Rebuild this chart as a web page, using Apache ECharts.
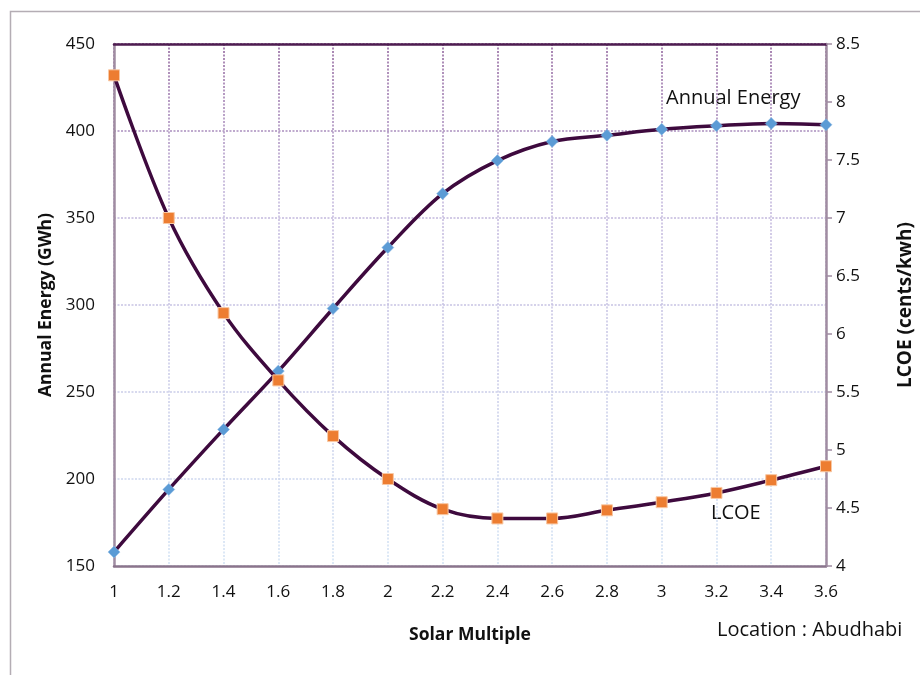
<!DOCTYPE html>
<html>
<head>
<meta charset="utf-8">
<script src="https://cdn.jsdelivr.net/npm/echarts@6/dist/echarts.min.js"></script>
<style>html,body{margin:0;padding:0;background:#fff}#c{width:920px;height:675px}</style>
</head>
<body>
<div id="c"></div>
<script>
var solarMultiple = ['1','1.2','1.4','1.6','1.8','2','2.2','2.4','2.6','2.8','3','3.2','3.4','3.6'];
var annualEnergy = [158, 194, 228.5, 262, 298, 333, 364, 383, 394, 397.5, 401, 403, 404.3, 403.6];
var lcoe = [8.23, 7.0, 6.18, 5.60, 5.12, 4.75, 4.49, 4.41, 4.41, 4.48, 4.55, 4.63, 4.74, 4.86];
var leftTicks = {min: 150, max: 450, interval: 50};
var rightTicks = {min: 4, max: 8.5, interval: 0.5};

var FONT = "'Open Sans', 'Noto Sans', sans-serif";
var gridGrad = {type: 'linear', x: 0, y: 44, x2: 0, y2: 566, global: true,
  colorStops: [{offset: 0, color: '#8c5c98'}, {offset: 0.3, color: '#c2b6dc'}, {offset: 1, color: '#d2e2f4'}]};
var splitStyle = {color: gridGrad, width: 1.5, type: [2, 1.5]};

var chart = echarts.init(document.getElementById('c'));
chart.setOption({
  animation: false,
  backgroundColor: '#fff',
  grid: {left: 114, right: 94, top: 44, bottom: 109, containLabel: false, outerBoundsMode: 'none'},
  xAxis: [{
    type: 'category', data: solarMultiple, boundaryGap: false, position: 'bottom',
    axisLine: {lineStyle: {color: '#8a748c', width: 2.5}},
    axisTick: {show: false},
    axisLabel: {fontFamily: FONT, fontSize: 17, color: '#111', margin: 18},
    splitLine: {show: true, lineStyle: splitStyle},
    name: 'Solar Multiple', nameLocation: 'middle', nameGap: 60,
    nameTextStyle: {fontFamily: FONT, fontSize: 17.5, fontWeight: 'bold', color: '#111'}
  }, {
    type: 'category', data: solarMultiple, boundaryGap: false, position: 'top',
    axisLine: {lineStyle: {color: '#4e1c50', width: 2.5}},
    axisTick: {show: false}, axisLabel: {show: false}, splitLine: {show: false}
  }],
  yAxis: [{
    type: 'value', position: 'left', min: leftTicks.min, max: leftTicks.max, interval: leftTicks.interval,
    axisLine: {show: true, lineStyle: {color: '#a08ca2', width: 2.5}},
    axisTick: {show: false},
    axisLabel: {fontFamily: FONT, fontSize: 17, color: '#111', margin: 19},
    splitLine: {show: true, lineStyle: splitStyle},
    name: 'Annual Energy (GWh)', nameLocation: 'middle', nameRotate: 90, nameGap: 59,
    nameTextStyle: {fontFamily: FONT, fontSize: 17.5, fontWeight: 'bold', color: '#111'}
  }, {
    type: 'value', position: 'right', min: rightTicks.min, max: rightTicks.max, interval: rightTicks.interval,
    axisLine: {show: true, lineStyle: {color: '#a08ca2', width: 2.5}},
    axisTick: {show: true, inside: false, length: 6, lineStyle: {color: '#a08ca2', width: 1.5}},
    axisLabel: {fontFamily: FONT, fontSize: 17, color: '#111', margin: 10},
    splitLine: {show: false},
    name: 'LCOE (cents/kwh)', nameLocation: 'middle', nameRotate: 90, nameGap: 70,
    nameTextStyle: {fontFamily: FONT, fontSize: 19, fontWeight: 'bold', color: '#111'}
  }],
  series: [{
    name: 'Annual Energy', type: 'line', yAxisIndex: 0, data: annualEnergy, smooth: 0.35,
    lineStyle: {color: '#3e0a3e', width: 3.5},
    symbol: 'diamond', symbolSize: 12,
    itemStyle: {color: '#5b9bd5', borderColor: '#8fbbe5', borderWidth: 0.5}, z: 3
  }, {
    name: 'LCOE', type: 'line', yAxisIndex: 1, data: lcoe, smooth: 0.35,
    lineStyle: {color: '#3e0a3e', width: 3.5},
    symbol: 'rect', symbolSize: 11,
    itemStyle: {color: '#ed7d31', borderColor: '#f8c8a4', borderWidth: 1}, z: 4
  }],
  graphic: [
    {type: 'rect', left: 8, top: 9, shape: {width: 1200, height: 1200}, silent: true, z: -10,
     style: {fill: 'none', stroke: '#b4adb4', lineWidth: 1.5}},
    {type: 'text', left: 666, top: 88, silent: true,
     style: {text: 'Annual Energy', font: "20px " + FONT, fill: '#111'}},
    {type: 'text', left: 711, top: 503, silent: true,
     style: {text: 'LCOE', font: "20px " + FONT, fill: '#111'}},
    {type: 'text', left: 717, top: 620, silent: true,
     style: {text: 'Location : Abudhabi', font: "20px " + FONT, fill: '#111'}}
  ]
});
</script>
</body>
</html>
